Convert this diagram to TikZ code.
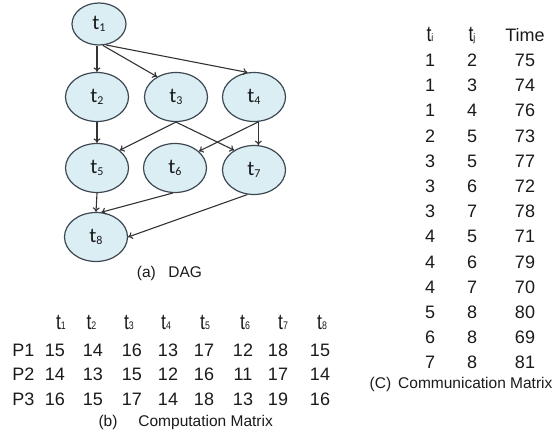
\documentclass[tikz,border=0pt]{standalone}
\usepackage{fontspec}
\setmainfont{Liberation Sans}
\newfontfamily\nodefont{Carlito}
\newfontfamily\narrowfont[FakeStretch=0.8]{Liberation Sans}
\usetikzlibrary{arrows.meta,shapes.geometric}

\definecolor{taskfill}{HTML}{DAEEF3}
\definecolor{taskline}{HTML}{3E4852}
\definecolor{edgecol}{HTML}{333333}
\definecolor{ink}{HTML}{1A1A1A}

% task label inside an ellipse: t with a lowered index
\newcommand{\tasklbl}[1]{{\nodefont t\raisebox{-2.5pt}{\fontsize{12}{12}\selectfont #1}}}
% column heading of a table: narrow t with a small index on the baseline
\newcommand{\colhead}[1]{{\narrowfont t{\fontsize{11}{11}\selectfont #1}}}

\tikzset{
  task/.style={ellipse, draw=taskline, line width=1.2pt, fill=taskfill,
    minimum width=63pt, minimum height=49pt, inner sep=0pt,
    font=\fontsize{21}{21}\selectfont, text=ink},
  edge/.style={draw=edgecol, line width=1.1pt, -{To[length=4.5pt,width=7pt]}},
  cell/.style={anchor=base, inner sep=0pt, font=\fontsize{18}{18}\selectfont, text=ink},
  headcell/.style={anchor=base, inner sep=0pt, font=\fontsize{22}{22}\selectfont, text=ink},
  caption/.style={anchor=base west, inner sep=0pt, font=\fontsize{15.5}{15.5}\selectfont, text=ink}
}

\begin{document}
\begin{tikzpicture}[x=1pt, y=-1pt]
  \useasboundingbox (0,0) rectangle (556,435);

  % ---- DAG ----
  \node[task, minimum width=54pt, minimum height=42pt] (t1) at (99,24) {\tasklbl{1}};
  \node[task] (t2) at (97,97)   {\tasklbl{2}};
  \node[task] (t3) at (176,97)  {\tasklbl{3}};
  \node[task] (t4) at (254,97)  {\tasklbl{4}};
  \node[task] (t5) at (97,168)  {\tasklbl{5}};
  \node[task] (t6) at (175,168) {\tasklbl{6}};
  \node[task] (t7) at (254,170) {\tasklbl{7}};
  \node[task] (t8) at (96,237)  {\tasklbl{8}};

  \draw[edge] (t2.north |- t1.south) -- (t2.north);
  \draw[edge] (t1.-80) -- (t3.133);
  \draw[edge] (t1.-72) -- (t4.105);
  \draw[edge] (t2.south) -- (t5.north);
  \draw[edge] (t3.-90) -- (t5.38);
  \draw[edge] (t3.-90) -- (t7.135);
  \draw[edge] (t4.-80) -- (t6.35);
  \draw[edge] (t4.-80) -- (t7.80);
  \draw[edge] (t5.south) -- (t8.north);
  \draw[edge] (t6.-95) -- (t8.78);
  \draw[edge] (t7.-105) -- (t8.east);

  \node[caption] (capA) at (136.7,277) {(a)\hspace{12.5pt}DAG};

  % ---- computation matrix ----
  \foreach \xx [count=\c] in {61,91.5,129,166,205,245,283,322}
    \node[headcell] (comp-h\c) at (\xx,329) {\colhead{\c}};
  \foreach \r/\yy in {1/356,2/380.5,3/405} {
    \node[cell] (comp-p\r) at (23.5,\yy) {P\r};
    \ifcase\r\or
      \def\vals{15/55,14/93,16/132,13/168,17/204,12/243,18/278,15/320}\or
      \def\vals{14/55,13/93,15/132,12/168,16/204,11/243,17/278,14/320}\or
      \def\vals{16/55,15/93,17/132,14/168,18/204,13/243,19/278,16/320}\fi
    \foreach \v/\xx [count=\c] in \vals
      \node[cell] (comp-\r-\c) at (\xx,\yy) {\v};
  }
  \node[caption] (capB) at (98.3,426) {(b)\hspace{21pt}Computation Matrix};

  % ---- communication matrix ----
  \node[headcell] (comm-hi) at (430,41.7) {\colhead{i}};
  \node[headcell] (comm-hj) at (472,41.7) {\colhead{j}};
  \node[cell] (comm-ht) at (525,41.7) {Time};
  \foreach \a/\b/\w [count=\k from 0] in {1/2/75,1/3/74,1/4/76,2/5/73,3/5/77,3/6/72,
      3/7/78,4/5/71,4/6/79,4/7/70,5/8/80,6/8/69,7/8/81} {
    \pgfmathsetmacro\yy{66.5+25.2*\k}
    \node[cell] (comm-\k-i) at (430,\yy) {\a};
    \node[cell] (comm-\k-j) at (472,\yy) {\b};
    \node[cell] (comm-\k-t) at (525,\yy) {\w};
  }
  \node[caption] (capC) at (369.5,388) {(C)\hspace{7pt}Communication Matrix};
\end{tikzpicture}
\end{document}
